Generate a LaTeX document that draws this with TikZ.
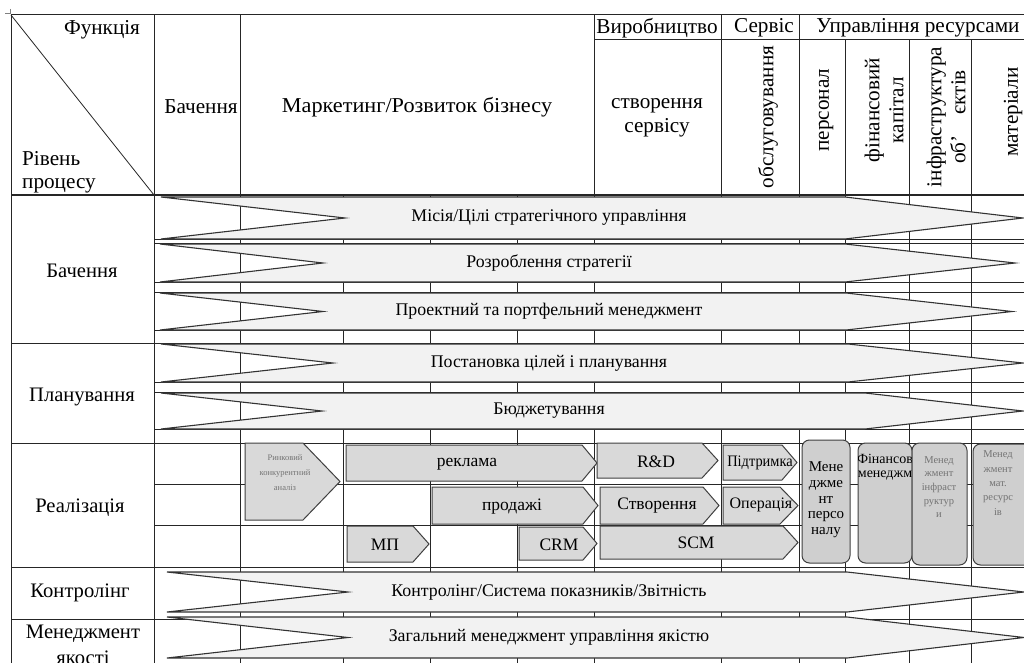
\documentclass[tikz,border=0pt]{standalone}
\usepackage{fontspec}
\setmainfont{Liberation Serif}
\begin{document}
\begin{tikzpicture}[x=1pt,y=-1pt,
  gl/.style={line width=1pt, draw=black!85},
  bigarr/.style={fill=black!5, draw=black!80, line width=1.1pt},
  proc/.style={fill=black!15, draw=black!75, line width=1pt},
  rbox/.style={fill=black!19, draw=black!75, line width=1pt, rounded corners=7.5pt},
  hdr/.style={font=\fontsize{21.2}{24}\selectfont, inner sep=0pt, align=center},
  rlab/.style={font=\fontsize{20.6}{26}\selectfont, inner sep=0pt, align=center},
  atxt/.style={font=\fontsize{17.8}{19}\selectfont, inner sep=0pt},
  ptxt/.style={font=\fontsize{17.5}{19}\selectfont, inner sep=0pt},
  small/.style={font=\fontsize{10}{13}\selectfont, inner sep=0pt, align=center, text=black!55},
]
\useasboundingbox (0,0) rectangle (1024,663);
\clip (0,0) rectangle (1024,663);
\fill[white] (0,0) rectangle (1024,663);

% table move handle
\draw[black!50, line width=0.5pt] (5,13.5) -- (11,13.5) (10,9) -- (10,14);

% ---------- grid ----------
\foreach \x in {11,154,240,594,721,799}
  \draw[gl] (\x,15) -- (\x,670);
\foreach \x in {343,430,517}
  \draw[gl] (\x,195) -- (\x,670);
\foreach \x in {845,909,971}
  \draw[gl] (\x,40) -- (\x,670);
\foreach \y in {15,343,443,567,619}
  \draw[gl] (11,\y) -- (1030,\y);
\draw[gl, line width=1.6pt] (11,195) -- (1030,195);
\draw[gl] (594,40) -- (1030,40);
\foreach \y in {239,243,282,292,330,382,392,429,484,525}
  \draw[gl] (154,\y) -- (1030,\y);
\draw[gl, line width=0.8pt] (11,15) -- (154,195);

% ---------- header ----------
\node[hdr] (fn) at (102,30) {Функція};
\node[hdr, anchor=west, align=left, font=\fontsize{21.2}{23}\selectfont] (rv) at (22,172) {Рівень\\процесу};
\node[hdr] (hB) at (201,107) {Бачення};
\node[hdr] (hM) at (417,107) {\scalebox{1.05}[1]{Маркетинг/Розвиток бізнесу}};
\node[hdr] (hV) at (657,28) {Виробництво};
\node[hdr] (hS) at (764,28) {Сервіс};
\node[hdr] (hU) at (918,28) {Управління ресурсами};
\node[hdr] (hSS) at (657,118) {створення\\сервісу};
\node[hdr, rotate=90] (hO) at (768,117) {обслуговування};
\node[hdr, rotate=90] (hP) at (826,110) {персонал};
\node[hdr, rotate=90] (hF) at (884,110) {фінансовий\\капітал};
\node[hdr, rotate=90] (hI) at (946,117) {інфраструктура\\об’\quad єктів};
\node[hdr, rotate=90] (hMt) at (1013,112) {матеріали};

% ---------- row labels ----------
\node[rlab] (rB) at (82,271) {Бачення};
\node[rlab] (rP) at (82,397) {Планування};
\node[rlab] (rR) at (80,508) {Реалізація};
\node[rlab] (rK) at (80,593) {Контролінг};
\node[rlab] (rMe) at (83,645) {Менеджмент\\якості};

% ---------- big arrows ----------
\newcommand\BigArr[8]{% left top bot notch shoulder tip name label
  \draw[bigarr] (#1,#2) -- (#4,{(#2+#3)/2}) -- (#1,#3) -- (#5,#3) -- (#6,{(#2+#3)/2}) -- (#5,#2) -- cycle;
  \node[atxt] (#7) at (549,{(#2+#3)/2}) {#8};}
\BigArr{161}{197}{239}{345}{845}{1023}{a1}{Місія/Цілі стратегічного управління}
\BigArr{160}{244}{282}{323}{845}{1015}{a2}{Розроблення стратегії}
\BigArr{160}{293}{330}{323}{846}{1012}{a3}{Проектний та портфельний менеджмент}
\BigArr{161}{344}{382}{333}{848}{1023}{a4}{Постановка цілей і планування}
\BigArr{161}{393}{429}{322}{865}{1023}{a5}{Бюджетування}
\BigArr{167}{572}{612}{348}{847}{1024}{a6}{Контролінг/Система показників/Звітність}
\BigArr{167}{617}{658}{348}{847}{1024}{a7}{Загальний менеджмент управління якістю}

% ---------- process chevrons ----------
\newcommand\Penta[5]{% left top bot shoulder tip
  \draw[proc] (#1,#2) -- (#4,#2) -- (#5,{(#2+#3)/2}) -- (#4,#3) -- (#1,#3) -- cycle;}
\Penta{245}{443}{520}{303}{340}
\node[small, font=\fontsize{8.5}{15}\selectfont] (rka) at (285,473) {Ринковий\\конкурентний\\аналіз};
\Penta{346}{445}{481}{582}{597}
\node[ptxt] (rek) at (467,464) {реклама};
\Penta{432}{487}{524}{583}{598}
\node[ptxt] (prd) at (512,507) {продажі};
\Penta{347}{526}{562}{413}{429}
\node[ptxt] (mp) at (385,545) {МП};
\Penta{519}{527}{560}{583}{597}
\node[ptxt] (crm) at (559,545) {CRM};
\Penta{597}{443}{478}{702}{718}
\node[ptxt] (rd) at (656,462) {R\&D};
\Penta{600}{487}{524}{703}{719}
\node[ptxt] (stv) at (657,506) {Створення};
\Penta{600}{526}{559}{783}{798}
\node[ptxt] (scm) at (696,543) {SCM};
\Penta{723}{445}{480}{782}{797}
\node[ptxt, font=\fontsize{16}{18}\selectfont] (pdt) at (760,463) {\scalebox{0.9}[1]{Підтримка}};
\Penta{723}{487}{524}{780}{798}
\node[ptxt, font=\fontsize{16}{18}\selectfont] (opr) at (761,505) {Операція};

% ---------- resource boxes ----------
\draw[rbox] (802,440) rectangle (850,563);
\node[font=\fontsize{15}{15.7}\selectfont, inner sep=0pt, align=center] (mpers) at (826,500) {Мене\\джме\\нт\\персо\\налу};
\draw[rbox] (858,443) rectangle (912,563);
\begin{scope}
  \clip (858,443) rectangle (912,563);
  \node[font=\fontsize{14}{14}\selectfont, inner sep=0pt, align=center] (mfin) at (885,467) {Фінансов\\менеджм};
\end{scope}
\draw[rbox] (912,443) rectangle (967,565);
\node[small, font=\fontsize{10.5}{13.7}\selectfont] (minf) at (939,487) {Менед\\жмент\\інфраст\\руктур\\и};
\draw[rbox] (973,444) rectangle (1036,565);
\node[small, font=\fontsize{10.5}{14.3}\selectfont] (mmat) at (998,483) {Менед\\жмент\\мат.\\ресурс\\ів};
\end{tikzpicture}
\end{document}
